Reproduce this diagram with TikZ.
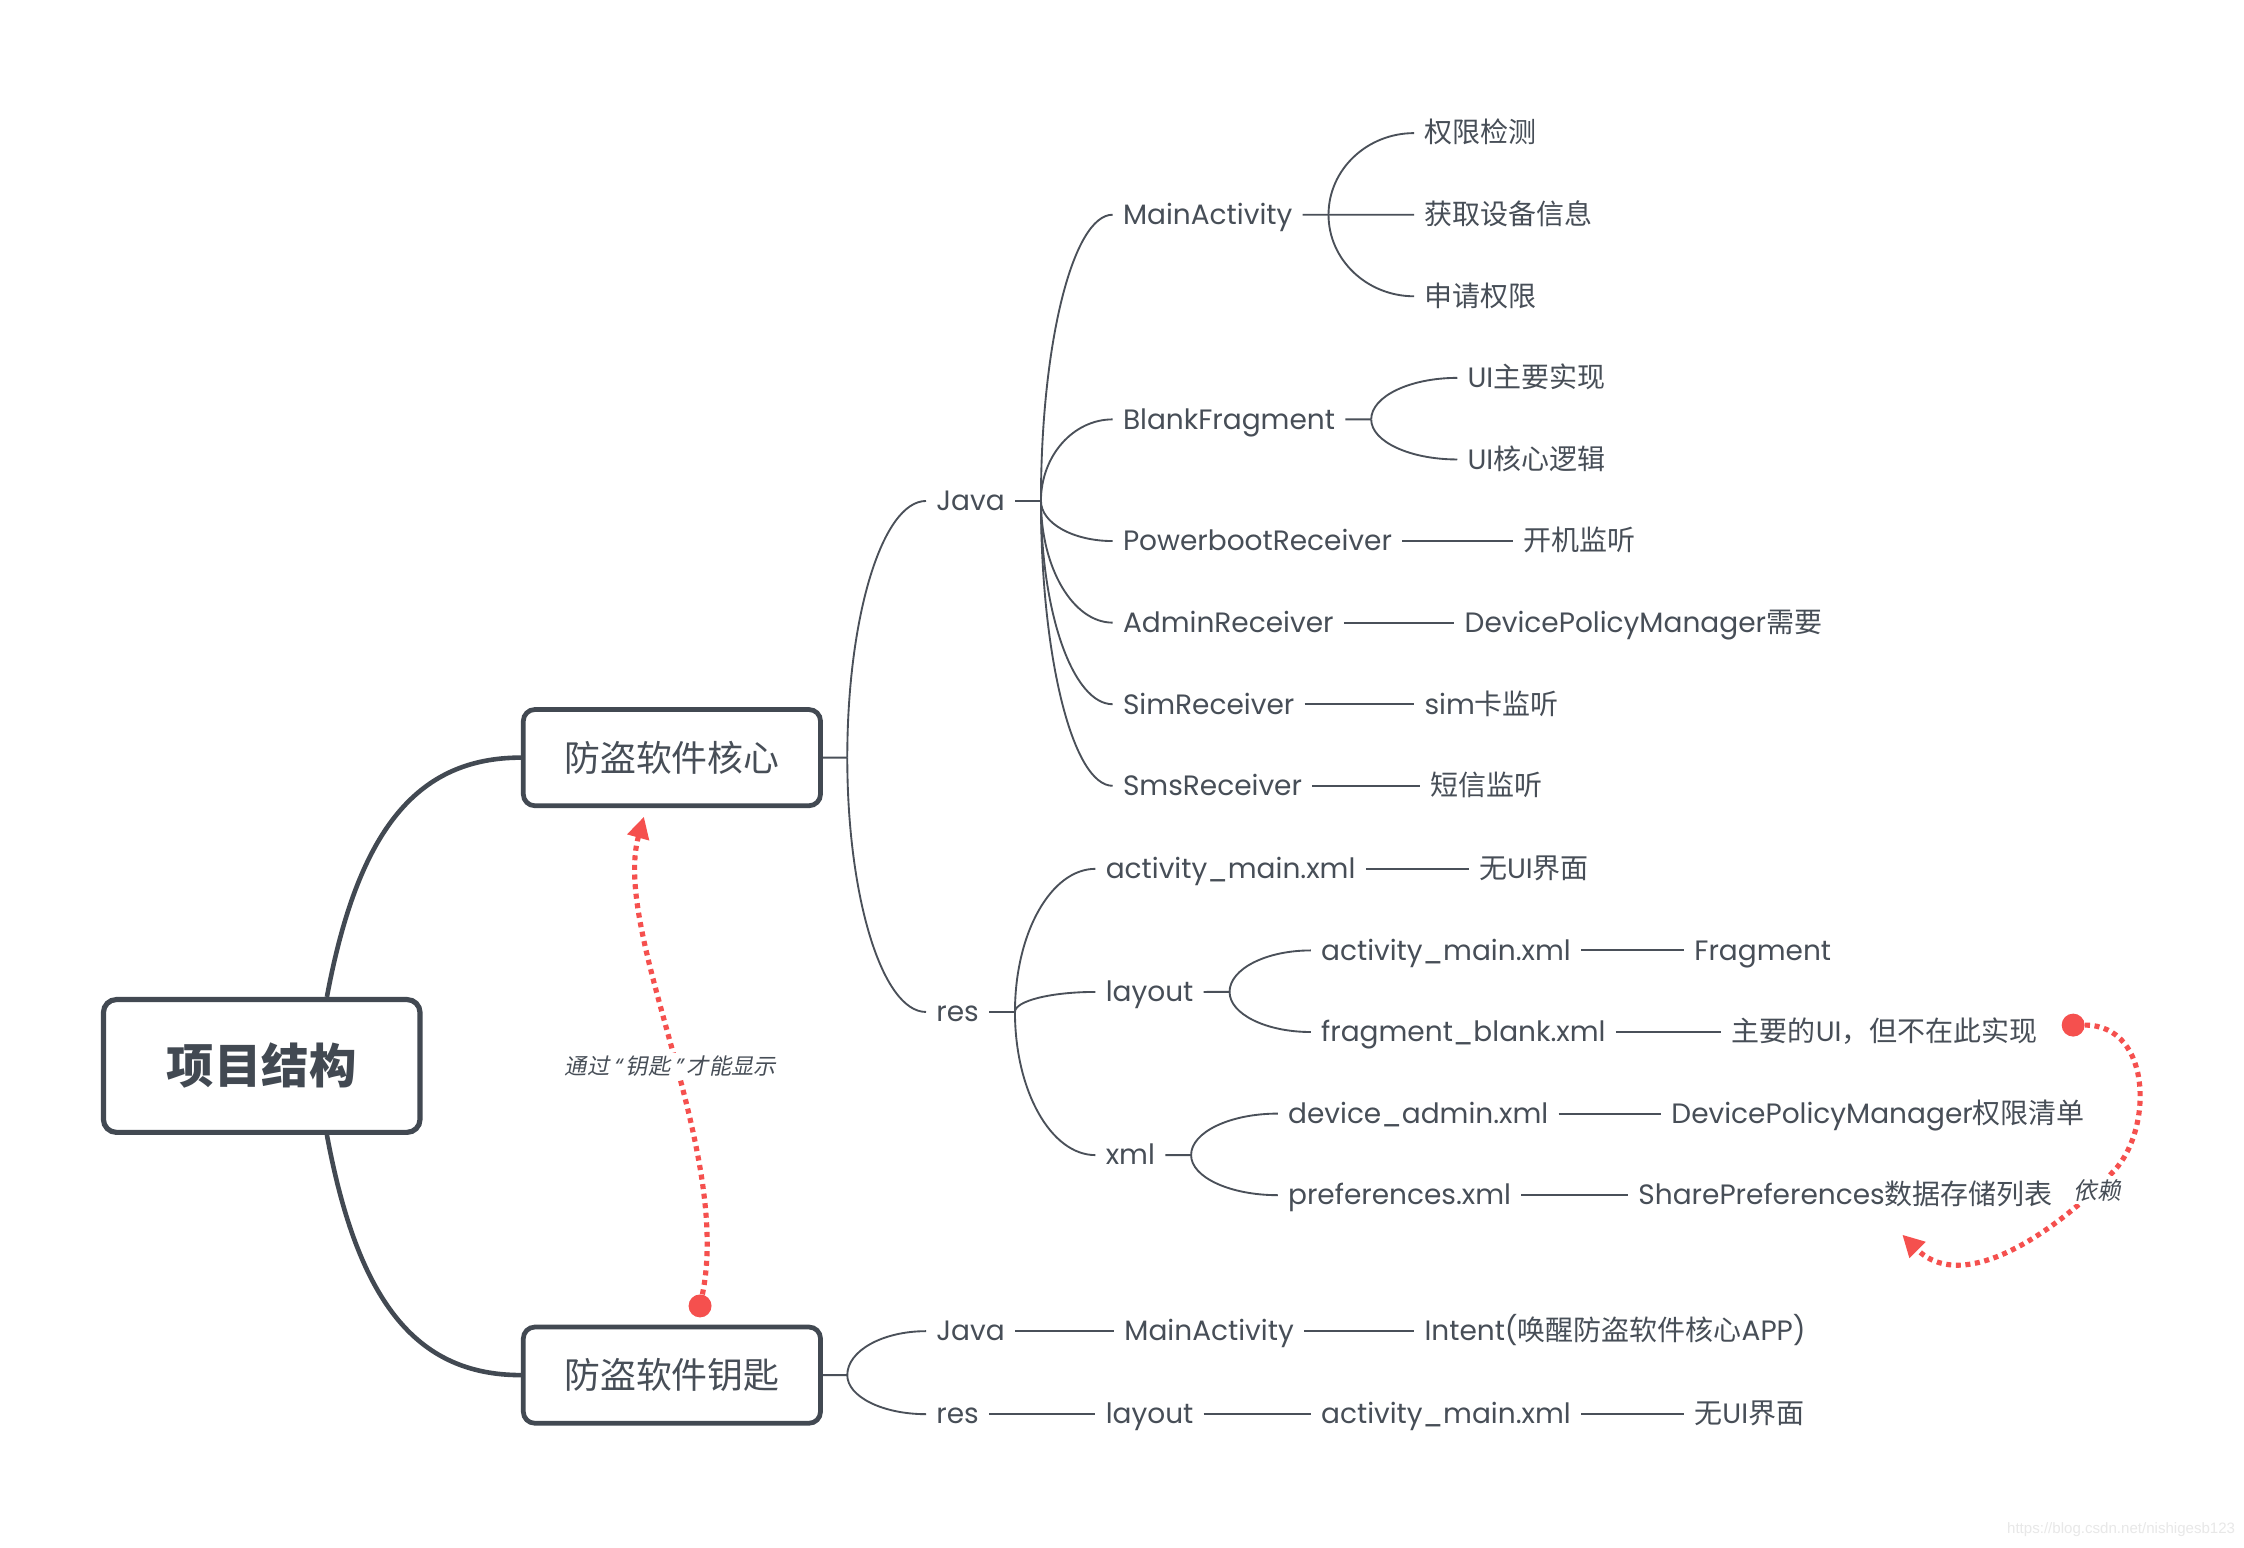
\documentclass[tikz,border=0pt]{standalone}
\usepackage{fontspec}
\setmainfont{Poppins}
\newfontfamily\cjk{Noto Sans CJK SC}
\newfontfamily\cjkit{Noto Sans CJK SC}[FakeSlant=0.2]
\newfontfamily\latit{Poppins}[FakeSlant=0.2]
\newfontfamily\wmfont{Liberation Sans}
\usetikzlibrary{arrows.meta,calc}
\newcommand\zh[1]{{\cjk #1}}
\definecolor{tc}{HTML}{474E57}
\definecolor{lc}{HTML}{4A5059}
\definecolor{bc}{HTML}{424952}
\definecolor{rc}{HTML}{F5504E}
\newcommand\qc[2]{\draw[br] (#1) .. controls ($(#1)!0.552!(#1|-#2)$) and ($(#2)!0.552!(#1|-#2)$) .. (#2);}
\begin{document}
\begin{tikzpicture}[x=1pt,y=-1pt,
  txt/.style={anchor=west,inner xsep=7pt,inner ysep=0pt,text height=16pt,text depth=2.4pt,
    font=\fontsize{19.5}{21}\selectfont,text=tc},
  br/.style={draw=lc,line width=1.3pt},
  thk/.style={draw=bc,line width=3.2pt},
  rootbox/.style={draw=bc,line width=3.6pt,rounded corners=9pt,minimum width=220.5pt,minimum height=92.5pt,
    font=\cjk\bfseries\fontsize{33}{36}\selectfont,text=bc,fill=white},
  lvbox/.style={draw=bc,line width=3.3pt,rounded corners=8pt,minimum width=207pt,minimum height=67pt,
    font=\cjk\fontsize{25}{28}\selectfont,text=tc,fill=white},
  reddot/.style={circle,fill=rc,inner sep=0pt,minimum size=16pt},
  redline/.style={draw=rc,line width=3.6pt,dash pattern=on 3.5pt off 3.2pt,-{Triangle[length=15pt,width=15pt]}},
  lbl/.style={fill=white,inner sep=2pt,text=tc},
]
\useasboundingbox (0,0) rectangle (1563,1078.2);
\fill[white] (0,0) rectangle (1563,1078.2);

\begin{scope}[shift={(-3,0)},yscale=0.997]
% main boxes
\node[rootbox] (root) at (185.3,744.7) {项目结构};
\node[lvbox] (k1) at (471,529.3) {防盗软件核心};
\node[lvbox] (k2) at (471,960.7) {防盗软件钥匙};

% root connectors
\draw[thk] ([xshift=45.4pt]root.north) .. controls (252,582) and (292,529.3) .. (k1.west);
\draw[thk] ([xshift=45.4pt]root.south) .. controls (252,908) and (292,960.7) .. (k2.west);

% ---- core tree ----
\node[txt] (java) at (648,350) {Java};
\node[txt] (ma) at (778,150) {MainActivity};
\node[txt] (qx) at (988,93) {\zh{权限检测}};
\node[txt] (hq) at (988,150) {\zh{获取设备信息}};
\node[txt] (sq) at (988,207) {\zh{申请权限}};
\node[txt] (bf) at (778,293) {BlankFragment};
\node[txt] (ui1) at (1018,264) {UI\zh{主要实现}};
\node[txt] (ui2) at (1018,321) {UI\zh{核心逻辑}};
\node[txt] (pr) at (778,378) {PowerbootReceiver};
\node[txt] (kj) at (1057,378) {\zh{开机监听}};
\node[txt] (ar) at (778,435) {AdminReceiver};
\node[txt] (dpm) at (1016,435) {DevicePolicyManager\zh{需要}};
\node[txt] (sr) at (778,492) {SimReceiver};
\node[txt] (sk) at (988,492) {sim\zh{卡监听}};
\node[txt] (smr) at (778,549) {SmsReceiver};
\node[txt] (dx) at (992,549) {\zh{短信监听}};
\node[txt] (res) at (648,707) {res};
\node[txt] (am1) at (766,607) {activity\_main.xml};
\node[txt] (wu1) at (1026,607) {\zh{无}UI\zh{界面}};
\node[txt] (lay) at (766,693) {layout};
\node[txt] (am2) at (916,664) {activity\_main.xml};
\node[txt] (frag) at (1176,664) {Fragment};
\node[txt] (fb) at (916,721) {fragment\_blank.xml};
\node[txt] (zy) at (1202,721) {\zh{主要的}UI\zh{，但不在此实现}};
\node[txt] (xml) at (766,807) {xml};
\node[txt] (da) at (893,778) {device\_admin.xml};
\node[txt] (dpq) at (1160,778) {DevicePolicyManager\zh{权限清单}};
\node[txt] (pref) at (893,835) {preferences.xml};
\node[txt] (sp) at (1137,835) {SharePreferences\zh{数据存储列表}};

\coordinate (jk1) at ([xshift=17pt]k1.east);
\draw[br] (k1.east) -- (jk1);
\qc{jk1}{java.west}
\qc{jk1}{res.west}

\coordinate (jjava) at ([xshift=18pt]java.east);
\draw[br] (java.east) -- (jjava);
\qc{jjava}{ma.west}
\qc{jjava}{bf.west}
\qc{jjava}{pr.west}
\qc{jjava}{ar.west}
\qc{jjava}{sr.west}
\qc{jjava}{smr.west}

\coordinate (jma) at ([xshift=18pt]ma.east);
\draw[br] (ma.east) -- (jma);
\qc{jma}{qx.west}
\qc{jma}{hq.west}
\qc{jma}{sq.west}

\coordinate (jbf) at ([xshift=18pt]bf.east);
\draw[br] (bf.east) -- (jbf);
\qc{jbf}{ui1.west}
\qc{jbf}{ui2.west}

\draw[br] (pr.east) -- (kj.west);
\draw[br] (ar.east) -- (dpm.west);
\draw[br] (sr.east) -- (sk.west);
\draw[br] (smr.east) -- (dx.west);

\coordinate (jres) at ([xshift=18pt]res.east);
\draw[br] (res.east) -- (jres);
\qc{jres}{am1.west}
\qc{jres}{lay.west}
\qc{jres}{xml.west}
\draw[br] (am1.east) -- (wu1.west);

\coordinate (jlay) at ([xshift=18pt]lay.east);
\draw[br] (lay.east) -- (jlay);
\qc{jlay}{am2.west}
\qc{jlay}{fb.west}
\draw[br] (am2.east) -- (frag.west);
\draw[br] (fb.east) -- (zy.west);

\coordinate (jxml) at ([xshift=18pt]xml.east);
\draw[br] (xml.east) -- (jxml);
\qc{jxml}{da.west}
\qc{jxml}{pref.west}
\draw[br] (da.east) -- (dpq.west);
\draw[br] (pref.east) -- (sp.west);

% ---- key tree ----
\node[txt] (java2) at (648,930) {Java};
\node[txt] (ma2) at (779,930) {MainActivity};
\node[txt] (intent) at (988,930) {Intent(\zh{唤醒防盗软件核心}APP)};
\node[txt] (res2) at (648,988) {res};
\node[txt] (lay2) at (766,988) {layout};
\node[txt] (am3) at (916,988) {activity\_main.xml};
\node[txt] (wu2) at (1176,988) {\zh{无}UI\zh{界面}};

\coordinate (jk2) at ([xshift=17pt]k2.east);
\draw[br] (k2.east) -- (jk2);
\qc{jk2}{java2.west}
\qc{jk2}{res2.west}
\draw[br] (java2.east) -- (ma2.west);
\draw[br] (ma2.east) -- (intent.west);
\draw[br] (res2.east) -- (lay2.west);
\draw[br] (lay2.east) -- (am3.west);
\draw[br] (am3.east) -- (wu2.west);
\end{scope}

% ---- red relations ----
\node[reddot] (d1) at (487.6,909.6) {};
\draw[redline] (d1) .. controls (510,800) and (426,650) .. ([xshift=-19.5pt,yshift=-6pt]k1.south);
\node[lbl,font=\cjkit\fontsize{15.5}{17}\selectfont] (l1) at (467,742.5) {通过\,{\latit “}\hspace{3pt}钥匙\,{\latit ”}\hspace{3pt}才能显示};

\node[reddot] (d2) at (1444,714) {};
\coordinate (t2) at (1325,860);
\draw[redline] (d2) .. controls (1500,714) and (1500,790) .. (1470,818) .. controls (1440,850) and (1370,905) .. (t2);
\node[lbl,font=\cjkit\fontsize{16.5}{18}\selectfont] (l2) at (1461,829) {依赖};

% watermark
\node[anchor=east,inner sep=0pt,text=black!9,font=\wmfont\fontsize{10.5}{12}\selectfont] (wm) at (1557,1065.5) {https://blog.csdn.net/nishigesb123};
\end{tikzpicture}
\end{document}
